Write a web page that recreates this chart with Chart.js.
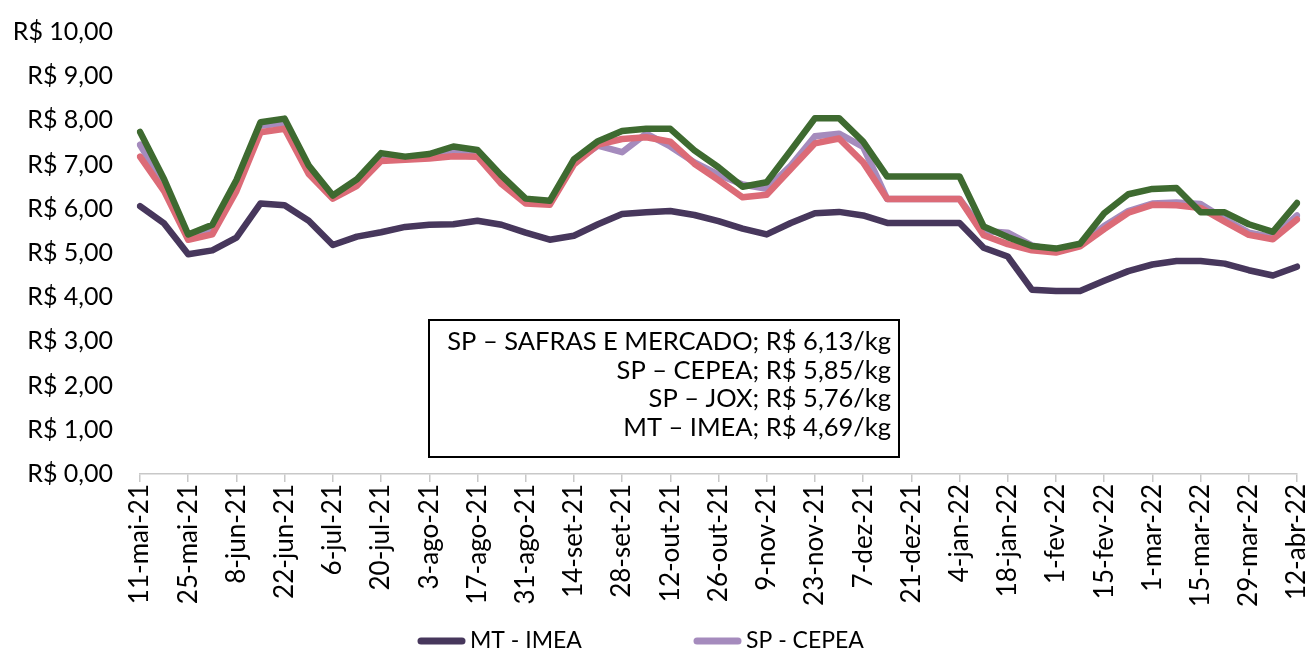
<!DOCTYPE html>
<html><head><meta charset="utf-8">
<script src="https://cdn.jsdelivr.net/npm/chart.js@4.4.1/dist/chart.umd.min.js"></script>
<style>html,body{margin:0;padding:0;background:#fff;overflow:hidden}canvas{display:block}</style>
</head><body>
<canvas id="c" width="1311" height="659"></canvas>
<script>
const categories = ['11-mai-21','18-mai-21','25-mai-21','1-jun-21','8-jun-21','15-jun-21','22-jun-21','29-jun-21','6-jul-21','13-jul-21','20-jul-21','27-jul-21','3-ago-21','10-ago-21','17-ago-21','24-ago-21','31-ago-21','7-set-21','14-set-21','21-set-21','28-set-21','5-out-21','12-out-21','19-out-21','26-out-21','2-nov-21','9-nov-21','16-nov-21','23-nov-21','30-nov-21','7-dez-21','14-dez-21','21-dez-21','28-dez-21','4-jan-22','11-jan-22','18-jan-22','25-jan-22','1-fev-22','8-fev-22','15-fev-22','22-fev-22','1-mar-22','8-mar-22','15-mar-22','22-mar-22','29-mar-22','5-abr-22','12-abr-22'];

const mtImea = [6.06,5.67,4.97,5.06,5.35,6.12,6.08,5.73,5.18,5.37,5.47,5.59,5.64,5.65,5.73,5.64,5.46,5.30,5.39,5.65,5.88,5.92,5.95,5.86,5.72,5.55,5.42,5.68,5.90,5.93,5.85,5.68,5.68,5.68,5.68,5.12,4.92,4.17,4.14,4.14,4.37,4.59,4.74,4.82,4.82,4.76,4.61,4.49,4.69];
const spCepea = [7.45,6.55,5.36,5.50,6.48,7.88,7.94,6.95,6.30,6.60,7.18,7.15,7.22,7.33,7.28,6.65,6.18,6.12,7.05,7.43,7.28,7.70,7.41,7.05,6.77,6.55,6.45,6.98,7.64,7.70,7.40,6.22,6.22,6.22,6.22,5.50,5.46,5.17,5.05,5.18,5.61,5.95,6.12,6.14,6.11,5.77,5.46,5.36,5.85];
const spJox = [7.18,6.40,5.30,5.42,6.40,7.73,7.81,6.79,6.23,6.52,7.08,7.11,7.14,7.19,7.18,6.56,6.12,6.09,7.00,7.45,7.58,7.62,7.52,7.02,6.65,6.26,6.32,6.90,7.48,7.59,7.05,6.22,6.22,6.22,6.22,5.40,5.20,5.06,5.01,5.15,5.54,5.91,6.09,6.08,6.02,5.71,5.41,5.31,5.76];
const spSafras = [7.74,6.67,5.42,5.64,6.65,7.96,8.04,6.98,6.30,6.67,7.26,7.18,7.24,7.41,7.33,6.75,6.23,6.18,7.12,7.53,7.76,7.81,7.81,7.32,6.94,6.50,6.60,7.32,8.05,8.05,7.52,6.73,6.73,6.73,6.73,5.60,5.36,5.16,5.10,5.21,5.90,6.33,6.45,6.47,5.92,5.92,5.65,5.48,6.13];

const seriesNames = ['MT - IMEA','SP - CEPEA','SP - JOX','SP - SAFRAS E MERCADO'];
const seriesColors = ['#47375c','#a58bbd','#dc6b77','#3e6a30'];
const noteLines = ['SP \u2013 SAFRAS E MERCADO; R$ 6,13/kg','SP \u2013 CEPEA; R$ 5,85/kg','SP \u2013 JOX; R$ 5,76/kg','MT \u2013 IMEA; R$ 4,69/kg'];
const yMin = 0, yMax = 10, yStep = 1;

const FONT = 'Lato';
const seriesData = [mtImea, spCepea, spJox, spSafras];

const datasets = seriesData.map((d, i) => ({
  label: seriesNames[i],
  data: d,
  borderColor: seriesColors[i],
  backgroundColor: seriesColors[i],
  borderWidth: 6.5,
  pointRadius: 0,
  tension: 0,
  borderJoinStyle: 'round',
  borderCapStyle: 'round',
  order: seriesData.length - i
}));

const overlayPlugin = {
  id: 'overlay',
  afterDatasetsDraw(chart) {
    const ctx = chart.ctx;
    ctx.save();
    const bx = 429, by = 320, bw = 470, bh = 137;
    ctx.fillStyle = '#ffffff';
    ctx.fillRect(bx, by, bw, bh);
    ctx.strokeStyle = '#000';
    ctx.lineWidth = 2;
    ctx.strokeRect(bx, by, bw, bh);
    ctx.fillStyle = '#000';
    ctx.font = '25.5px ' + FONT;
    ctx.textAlign = 'right';
    ctx.textBaseline = 'middle';
    const rowsY = [342, 370.5, 399, 427.5];
    noteLines.forEach((t, i) => ctx.fillText(t, 891, rowsY[i]));
    ctx.font = '23px ' + FONT;
    ctx.textAlign = 'left';
    const ly = 641, lx0 = 418, stride = 276, lineLen = 47;
    chart.data.datasets.slice(0, 2).forEach((ds, i) => {
      const x = lx0 + i * stride;
      ctx.strokeStyle = ds.borderColor;
      ctx.lineWidth = 7;
      ctx.lineCap = 'round';
      ctx.beginPath();
      ctx.moveTo(x + 3, ly);
      ctx.lineTo(x + lineLen - 3, ly);
      ctx.stroke();
      ctx.fillStyle = '#000';
      ctx.fillText(ds.label, x + lineLen + 5, ly);
    });
    ctx.restore();
  }
};

new Chart(document.getElementById('c'), {
  type: 'line',
  data: { labels: categories, datasets },
  options: {
    responsive: false,
    animation: false,
    devicePixelRatio: 1,
    layout: { padding: { top: 32, right: 14, bottom: 44, left: 0 } },
    plugins: { legend: { display: false }, tooltip: { enabled: false } },
    scales: {
      x: {
        type: 'category',
        offset: false,
        afterFit: (s) => { s.height = 141; s.paddingLeft = 0; s.paddingRight = 0; },
        border: { display: true, color: '#c8c8c8', width: 1.5 },
        grid: {
          display: true, drawOnChartArea: false, drawTicks: true, tickLength: 8,
          color: (c) => (c.index % 2 === 0 ? '#c8c8c8' : 'rgba(0,0,0,0)'), lineWidth: 1.5
        },
        ticks: {
          autoSkip: false, maxRotation: 90, minRotation: 90, padding: 2,
          color: '#000', font: { family: FONT, size: 26 },
          callback: (v, i) => (i % 2 === 0 ? categories[i] : '')
        }
      },
      y: {
        min: yMin, max: yMax,
        afterFit: (s) => { s.width = 140; s.paddingTop = 0; s.paddingBottom = 0; },
        border: { display: false },
        grid: { display: false, drawTicks: false },
        ticks: {
          stepSize: yStep, padding: 27, color: '#000', font: { family: FONT, size: 25 },
          callback: (v) => 'R$ ' + Number(v).toFixed(2).replace('.', ',')
        }
      }
    }
  },
  plugins: [overlayPlugin]
});
</script>
</body></html>
